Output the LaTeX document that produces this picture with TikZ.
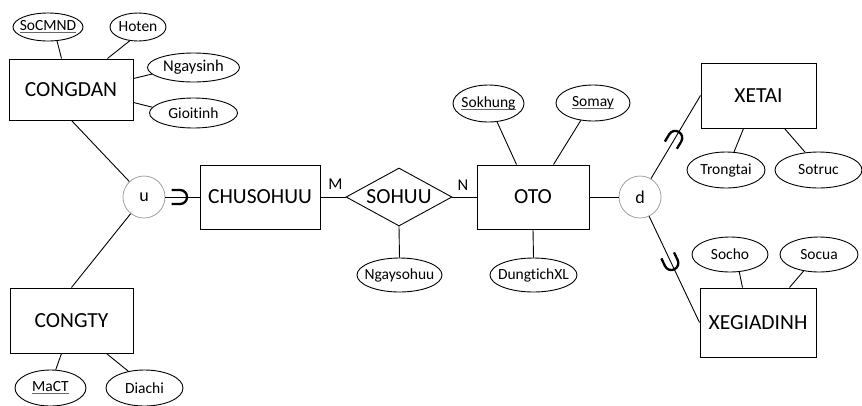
\documentclass[tikz,border=0pt]{standalone}
\usepackage{fontspec}
\setmainfont{Carlito}[Ligatures=NoCommon]
\usetikzlibrary{shapes.geometric}
% zero-width box so that a label never widens its shape
\newcommand\zbox[1]{\makebox[0pt]{#1}}
% key attributes: underlined in grey
\newcommand\keyattr[1]{\zbox{\rlap{\color{gray!80!black}\rule[-2.2pt]{\widthof{#1}}{0.9pt}}#1}}
\usepackage{calc}
\begin{document}
\begin{tikzpicture}[x=1pt,y=-1pt,
  entity/.style={draw,line width=1pt,inner sep=0pt,font=\fontsize{21.5}{25}\selectfont},
  attr/.style={draw,ellipse,line width=0.9pt,inner sep=0pt,font=\fontsize{15.5}{18}\selectfont},
  relation/.style={draw,diamond,line width=0.9pt,inner sep=0pt,font=\fontsize{21.5}{25}\selectfont},
  junction/.style={draw=gray!75,circle,line width=0.8pt,minimum size=42pt,inner sep=0pt,font=\fontsize{18}{21}\selectfont},
  link/.style={line width=0.9pt},
  card/.style={inner sep=0pt,font=\fontsize{16.5}{19}\selectfont},
  subsetmark/.pic={\draw[line width=2.3pt] (-8.5,7) -- (0,7) arc[start angle=90,end angle=-90,radius=7] -- (-8.5,-7);}
]
\useasboundingbox (0,0) rectangle (862,405);

% entities
\node[entity,minimum width=124pt,minimum height=61pt] (congdan) at (71,89.5) {CONGDAN};
\node[entity,minimum width=123pt,minimum height=65pt] (congty) at (71.5,320.5) {CONGTY};
\node[entity,minimum width=120pt,minimum height=64pt] (chusohuu) at (260,197) {CHUSOHUU};
\node[entity,minimum width=112pt,minimum height=64pt] (oto) at (533,197) {OTO};
\node[entity,minimum width=115pt,minimum height=65pt] (xetai) at (758.5,95.5) {XETAI};
\node[entity,minimum width=116pt,minimum height=69pt] (xegiadinh) at (758,322.5) {XEGIADINH};

% relationship
\node[relation,minimum width=106pt,minimum height=58pt,shape aspect=1.83] (sohuu) at (399,197) {\zbox{SOHUU}};

% union / disjoint circles
\node[junction] (u) at (144,197) {u};
\node[junction] (d) at (640,197) {d};

% attributes
\node[attr,minimum width=70pt,minimum height=28pt] (socmnd) at (48,27) {\keyattr{SoCMND}};
\node[attr,minimum width=56pt,minimum height=28pt] (hoten) at (138,27) {\zbox{Hoten}};
\node[attr,minimum width=92pt,minimum height=29pt,font=\fontsize{16.5}{19}\selectfont] (ngaysinh) at (193.5,67.5) {\zbox{Ngaysinh}};
\node[attr,minimum width=88pt,minimum height=30pt] (gioitinh) at (193.5,113) {\zbox{Gioitinh}};
\node[attr,minimum width=71pt,minimum height=36pt] (mact) at (50.5,388) {\keyattr{MaCT}};
\node[attr,minimum width=77pt,minimum height=36pt] (diachi) at (144.5,388) {\zbox{Diachi}};
\node[attr,minimum width=71pt,minimum height=37pt] (sokhung) at (488.5,103.5) {\keyattr{Sokhung}};
\node[attr,minimum width=74pt,minimum height=36pt] (somay) at (593,103) {\keyattr{Somay}};
\node[attr,minimum width=85pt,minimum height=34pt] (ngaysohuu) at (399.5,275) {\zbox{Ngaysohuu}};
\node[attr,minimum width=87pt,minimum height=34pt] (dungtich) at (533.5,275) {\zbox{DungtichXL}};
\node[attr,minimum width=78pt,minimum height=36pt] (trongtai) at (726,170) {\zbox{Trongtai}};
\node[attr,minimum width=87pt,minimum height=36pt] (sotruc) at (818.5,170) {\zbox{Sotruc}};
\node[attr,minimum width=76pt,minimum height=35pt] (socho) at (730,254.5) {\zbox{Socho}};
\node[attr,minimum width=78pt,minimum height=35pt] (socua) at (819,254.5) {\zbox{Socua}};

% cardinalities
\node[card] (m) at (335.5,184) {M};
\node[card] (n) at (463,185) {N};

% attribute links
\draw[link] (socmnd.-57) -- ([xshift=53pt]congdan.north west);
\draw[link] (hoten.-121) -- ([xshift=99pt]congdan.north west);
\draw[link] (ngaysinh.-171) -- ([yshift=-20pt]congdan.north east);
\draw[link] (gioitinh.172) -- ([yshift=-44pt]congdan.north east);
\draw[link] (mact.74) -- ([xshift=52pt]congty.south west);
\draw[link] (diachi.134) -- ([xshift=97pt]congty.south west);
\draw[link] (sokhung.-65) -- ([xshift=40pt]oto.north west);
\draw[link] (somay.-125) -- ([xshift=77pt]oto.north west);
\draw[link] (ngaysohuu.north) -- (sohuu.south);
\draw[link] (dungtich.north) -- (oto.south);
\draw[link] (trongtai.66) -- ([xshift=43pt]xetai.south west);
\draw[link] (sotruc.127) -- ([xshift=84pt]xetai.south west);
\draw[link] (socho.-62) -- ([xshift=43pt]xegiadinh.north west);
\draw[link] (socua.-133) -- ([xshift=90pt]xegiadinh.north west);

% relationship links
\draw[link] (chusohuu.east) -- (sohuu.west);
\draw[link] (sohuu.east) -- (oto.west);

% union of owners
\draw[link] ([xshift=63pt]congdan.south west) -- (u);
\draw[link] ([xshift=62pt]congty.north west) -- (u);
\draw[link] (u) -- (chusohuu.west) pic[pos=0.43,sloped,allow upside down] {subsetmark};

% specialisation of cars
\draw[link] (oto.east) -- (d);
\draw[link] (d) -- (xetai.west) pic[pos=0.49,sloped,allow upside down] {subsetmark};
\draw[link] (d) -- (xegiadinh.west) pic[pos=0.44,sloped,allow upside down] {subsetmark};
\end{tikzpicture}
\end{document}
